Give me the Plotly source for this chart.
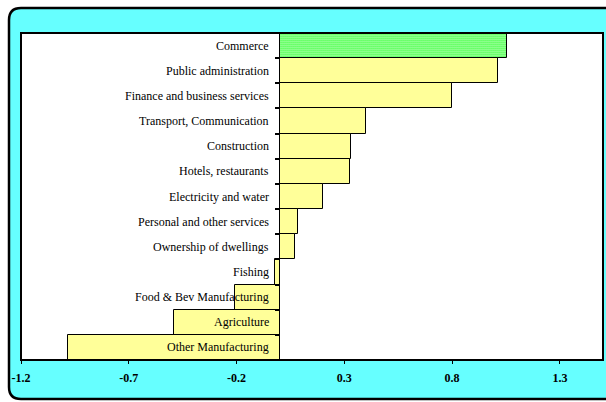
import plotly.graph_objects as go

categories = ["Commerce", "Public administration", "Finance and business services",
              "Transport, Communication", "Construction", "Hotels, restaurants",
              "Electricity and water", "Personal and other services",
              "Ownership of dwellings", "Fishing", "Food & Bev Manufacturing",
              "Agriculture", "Other Manufacturing"]
values = [1.055, 1.015, 0.80, 0.40, 0.33, 0.325, 0.20, 0.085, 0.072, -0.02,
          -0.208, -0.492, -0.982]
highlight = "Commerce"
tick_vals = [-1.2, -0.7, -0.2, 0.3, 0.8, 1.3]
tick_text = ["-1.2", "-0.7", "-0.2", "0.3", "0.8", "1.3"]
x_range = [-1.2, 1.5]

W, H = 606, 402
ml, mr, mt, mb = 21, 3, 33, 42
pw, ph = W - ml - mr, H - mt - mb

fg = ["#00FF00" if c == highlight else "#FFFF00" for c in categories]
sol = [0.6 if c == highlight else 0.42 for c in categories]

fig = go.Figure()
fig.add_trace(go.Bar(
    x=values, y=categories, orientation="h", width=1,
    marker=dict(color="white", line=dict(color="black", width=1),
                pattern=dict(shape=".", fgcolor=fg, bgcolor="white", size=2, solidity=sol,
                             fillmode="replace")),
    hoverinfo="x+y",
))

for c in categories:
    fig.add_annotation(x=0, y=c, xref="x", yref="y", text=c, showarrow=False,
                       xanchor="right", xshift=-9,
                       font=dict(family="Liberation Serif", size=12, color="black"))

zero_frac = (0 - x_range[0]) / (x_range[1] - x_range[0])

def px(xp):
    return (xp - ml) / pw

def py(yp):
    return (H - mb - yp) / ph

# rounded cyan background panel
x0, x1, y0, y1, r = px(9), px(612), py(8), py(399), 12
rx, ry = r / pw, r / ph
path = (f"M {x0+rx} {y0} L {x1} {y0} L {x1} {y1} L {x0+rx} {y1} "
        f"Q {x0} {y1} {x0} {y1+ry} L {x0} {y0-ry} Q {x0} {y0} {x0+rx} {y0} Z")
fig.add_shape(type="path", path=path, xref="paper", yref="paper",
              fillcolor="#66FFFF", line=dict(color="black", width=2.5), layer="below")
fig.add_shape(type="rect", x0=0, x1=1, y0=0, y1=1, xref="paper", yref="paper",
              line=dict(width=0), fillcolor="white", layer="below")
fig.add_shape(type="rect", x0=0, x1=1, y0=0, y1=1, xref="paper", yref="paper",
              line=dict(color="black", width=2), fillcolor="rgba(0,0,0,0)")

fig.update_layout(
    width=W, height=H, margin=dict(l=ml, r=mr, t=mt, b=mb),
    paper_bgcolor="white", plot_bgcolor="white",
    showlegend=False, bargap=0,
    xaxis=dict(range=x_range, tickvals=tick_vals, ticktext=tick_text,
               ticks="outside", ticklen=3, tickcolor="black", ticklabelstandoff=4,
               showgrid=False, zeroline=True, zerolinecolor="black", zerolinewidth=1,
               showline=False,
               tickfont=dict(family="Liberation Serif", size=12, color="black", weight="bold")),
    yaxis=dict(categoryorder="array", categoryarray=categories, autorange="reversed",
               showticklabels=False, ticks="outside", ticklen=5, tickcolor="black",
               tickwidth=1.5,
               tickson="boundaries", showgrid=False, zeroline=False, showline=False,
               anchor="free", position=zero_frac),
)

fig.write_html("out.html")
